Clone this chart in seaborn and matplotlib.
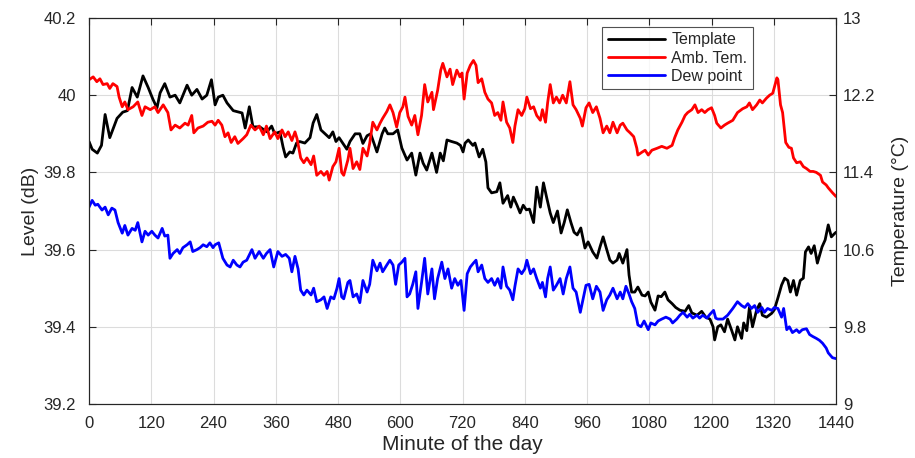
import matplotlib
matplotlib.use("Agg")
import matplotlib.pyplot as plt
import seaborn as sns
import pandas as pd

# ---------------- data ----------------
template_min = [0, 6, 16, 24, 31, 40, 54, 65, 74, 83, 93, 104, 114, 123, 131, 137, 146, 156, 166, 175,
                189, 198, 208, 218, 227, 236, 243, 249, 258, 266, 278, 295, 301, 309, 316, 329, 343, 352,
                358, 368, 374, 379, 387, 393, 400, 406, 416, 426, 432, 439, 447, 455, 463, 470, 476, 482,
                487, 497, 503, 513, 522, 528, 536, 543, 555, 565, 570, 576, 586, 595, 603, 613, 622, 630,
                638, 644, 651, 661, 670, 677, 683, 690, 699, 709, 716, 721, 725, 731, 740, 744, 752, 759,
                765, 769, 776, 786, 792, 798, 807, 813, 818, 825, 831, 837, 843, 849, 857, 863, 870, 876,
                882, 889, 895, 903, 910, 916, 922, 929, 935, 941, 948, 956, 962, 971, 979, 985, 991, 998,
                1004, 1010, 1018, 1022, 1029, 1037, 1041, 1046, 1052, 1058, 1066, 1072, 1078, 1083, 1091,
                1097, 1103, 1110, 1116, 1124, 1131, 1139, 1149, 1156, 1162, 1172, 1181, 1189, 1197, 1203,
                1206, 1212, 1218, 1225, 1231, 1239, 1245, 1250, 1258, 1262, 1268, 1273, 1279, 1287, 1293,
                1298, 1306, 1316, 1321, 1328, 1335, 1341, 1347, 1352, 1358, 1364, 1371, 1377, 1381, 1387,
                1392, 1398, 1404, 1413, 1419, 1425, 1431, 1436, 1440]
template_db = [39.88, 39.86, 39.85, 39.87, 39.95, 39.89, 39.94, 39.956, 39.96, 40.02, 39.995, 40.05, 40.02,
               39.99, 39.967, 40.006, 40.03, 39.995, 40.0, 39.98, 40.026, 40.0, 40.015, 39.99, 40.0, 40.04,
               39.975, 39.995, 40.0, 39.98, 39.96, 39.954, 39.915, 39.97, 39.918, 39.918, 39.905, 39.92,
               39.90, 39.905, 39.866, 39.84, 39.853, 39.85, 39.876, 39.88, 39.876, 39.89, 39.928, 39.95,
               39.91, 39.90, 39.89, 39.905, 39.88, 39.89, 39.88, 39.86, 39.88, 39.90, 39.90, 39.875, 39.895,
               39.90, 39.853, 39.90, 39.915, 39.90, 39.90, 39.91, 39.863, 39.832, 39.85, 39.793, 39.85,
               39.824, 39.806, 39.85, 39.80, 39.85, 39.83, 39.884, 39.88, 39.876, 39.87, 39.853, 39.876,
               39.884, 39.87, 39.876, 39.84, 39.86, 39.827, 39.76, 39.747, 39.75, 39.773, 39.72, 39.74,
               39.71, 39.736, 39.715, 39.695, 39.715, 39.703, 39.705, 39.67, 39.762, 39.71, 39.773, 39.736,
               39.695, 39.67, 39.70, 39.643, 39.67, 39.703, 39.67, 39.645, 39.638, 39.656, 39.604, 39.62,
               39.594, 39.578, 39.607, 39.633, 39.60, 39.573, 39.565, 39.573, 39.59, 39.565, 39.60, 39.534,
               39.49, 39.49, 39.503, 39.482, 39.48, 39.49, 39.464, 39.443, 39.48, 39.478, 39.49, 39.47,
               39.46, 39.45, 39.443, 39.44, 39.455, 39.436, 39.43, 39.44, 39.425, 39.42, 39.40, 39.366,
               39.40, 39.405, 39.387, 39.42, 39.39, 39.366, 39.40, 39.37, 39.41, 39.39, 39.45, 39.40,
               39.444, 39.46, 39.43, 39.425, 39.435, 39.444, 39.475, 39.508, 39.526, 39.52, 39.49, 39.52,
               39.482, 39.52, 39.526, 39.594, 39.607, 39.59, 39.61, 39.565, 39.607, 39.625, 39.664, 39.633,
               39.64, 39.645]

amb_min = [0, 8, 15, 21, 27, 35, 40, 46, 54, 58, 64, 69, 75, 85, 94, 102, 108, 118, 127, 133, 143, 152,
           158, 166, 175, 185, 191, 198, 202, 210, 220, 229, 237, 243, 249, 256, 262, 268, 274, 281, 287,
           297, 304, 312, 320, 328, 336, 342, 349, 358, 364, 372, 378, 384, 391, 397, 401, 408, 414, 420,
           428, 433, 439, 447, 453, 459, 463, 470, 476, 482, 487, 491, 499, 503, 509, 516, 522, 528, 536,
           541, 547, 555, 561, 566, 574, 580, 586, 593, 599, 605, 609, 615, 622, 628, 634, 641, 647, 653,
           661, 664, 672, 678, 682, 690, 696, 701, 709, 715, 719, 723, 729, 735, 741, 746, 750, 757, 763,
           769, 776, 782, 788, 794, 798, 805, 811, 817, 821, 827, 834, 840, 844, 851, 857, 863, 870, 874,
           880, 884, 889, 895, 901, 907, 913, 920, 927, 933, 939, 947, 951, 958, 964, 971, 978, 985, 991,
           998, 1004, 1010, 1018, 1024, 1029, 1037, 1043, 1050, 1056, 1058, 1066, 1072, 1078, 1085, 1095,
           1104, 1114, 1124, 1129, 1135, 1143, 1149, 1154, 1162, 1168, 1174, 1181, 1187, 1193, 1200, 1206,
           1210, 1218, 1225, 1231, 1241, 1250, 1260, 1268, 1273, 1279, 1287, 1293, 1298, 1306, 1312, 1318,
           1326, 1328, 1333, 1337, 1343, 1349, 1354, 1358, 1364, 1371, 1377, 1383, 1390, 1396, 1402, 1410,
           1414, 1421, 1425, 1433, 1440]
amb_temp = [12.36, 12.39, 12.34, 12.37, 12.31, 12.32, 12.27, 12.32, 12.29, 12.18, 12.08, 12.13, 12.05, 12.08,
            12.13, 11.99, 12.08, 12.05, 12.08, 12.02, 12.10, 12.02, 11.84, 11.89, 11.86, 11.91, 11.89, 11.99,
            11.81, 11.86, 11.88, 11.92, 11.93, 11.89, 11.94, 11.89, 11.77, 11.81, 11.71, 11.77, 11.70, 11.75,
            11.79, 11.89, 11.84, 11.88, 11.79, 11.88, 11.75, 11.82, 11.75, 11.84, 11.77, 11.82, 11.73, 11.82,
            11.75, 11.55, 11.50, 11.55, 11.48, 11.57, 11.37, 11.41, 11.37, 11.41, 11.32, 11.46, 11.51, 11.65,
            11.40, 11.37, 11.53, 11.65, 11.44, 11.51, 11.43, 11.65, 11.57, 11.70, 11.92, 11.84, 11.91, 11.96,
            12.03, 12.10, 12.02, 11.87, 12.02, 12.08, 12.18, 11.98, 11.89, 11.99, 11.79, 11.99, 12.31, 12.13,
            12.23, 12.05, 12.25, 12.46, 12.53, 12.39, 12.47, 12.31, 12.46, 12.39, 12.43, 12.16, 12.43, 12.51,
            12.56, 12.51, 12.33, 12.37, 12.23, 12.16, 12.12, 11.99, 12.02, 11.94, 12.13, 11.92, 11.86, 11.71,
            11.88, 12.05, 11.99, 12.06, 12.18, 12.06, 12.08, 11.99, 11.94, 12.05, 11.92, 12.12, 12.31, 12.12,
            12.18, 12.12, 12.20, 12.12, 12.34, 12.10, 12.05, 11.96, 11.88, 12.07, 12.12, 12.02, 12.08, 11.96,
            11.81, 11.88, 11.81, 11.92, 11.81, 11.89, 11.91, 11.84, 11.81, 11.77, 11.65, 11.58, 11.61, 11.63,
            11.58, 11.63, 11.65, 11.67, 11.65, 11.68, 11.76, 11.84, 11.92, 11.99, 12.02, 12.05, 12.10, 12.02,
            12.05, 12.02, 12.05, 12.07, 11.99, 11.91, 11.86, 11.89, 11.91, 11.94, 12.02, 12.06, 12.08, 12.12,
            12.05, 12.10, 12.15, 12.12, 12.17, 12.20, 12.22, 12.38, 12.36, 12.10, 12.02, 11.71, 11.66, 11.65,
            11.55, 11.50, 11.51, 11.46, 11.44, 11.41, 11.41, 11.40, 11.37, 11.30, 11.27, 11.24, 11.19, 11.15]

dew_min = [0, 6, 12, 17, 25, 31, 37, 44, 50, 56, 64, 69, 75, 83, 89, 94, 102, 108, 114, 121, 127, 133, 141,
           146, 152, 156, 162, 170, 175, 181, 189, 195, 200, 208, 214, 220, 227, 233, 239, 243, 250, 258,
           266, 272, 278, 285, 291, 297, 304, 314, 320, 328, 336, 342, 349, 356, 364, 372, 379, 386, 391,
           397, 403, 408, 414, 420, 428, 433, 439, 447, 453, 459, 466, 472, 478, 482, 487, 491, 499, 503,
           509, 516, 522, 528, 536, 541, 547, 555, 561, 566, 574, 580, 586, 591, 597, 603, 609, 613, 618,
           624, 630, 634, 641, 647, 653, 661, 666, 672, 680, 686, 692, 699, 705, 711, 717, 723, 729, 735,
           741, 746, 750, 757, 763, 769, 776, 782, 788, 794, 798, 805, 811, 817, 821, 827, 834, 840, 844,
           851, 857, 863, 870, 874, 880, 884, 889, 895, 901, 908, 914, 920, 927, 933, 939, 947, 951, 958,
           964, 971, 978, 985, 991, 998, 1004, 1010, 1018, 1024, 1029, 1035, 1041, 1046, 1052, 1058, 1064,
           1070, 1078, 1083, 1091, 1097, 1104, 1112, 1120, 1125, 1133, 1139, 1145, 1153, 1158, 1164, 1172,
           1177, 1183, 1191, 1197, 1204, 1208, 1212, 1222, 1231, 1241, 1250, 1258, 1264, 1270, 1277, 1283,
           1289, 1297, 1302, 1308, 1316, 1321, 1328, 1335, 1339, 1345, 1350, 1356, 1364, 1369, 1375, 1383,
           1389, 1395, 1402, 1408, 1414, 1421, 1425, 1433, 1440]
dew_temp = [11.04, 11.11, 11.06, 11.07, 11.01, 11.04, 10.96, 11.03, 11.01, 10.88, 10.77, 10.85, 10.75, 10.82,
            10.80, 10.88, 10.68, 10.79, 10.75, 10.79, 10.75, 10.72, 10.82, 10.74, 10.75, 10.51, 10.56, 10.60,
            10.56, 10.62, 10.65, 10.68, 10.58, 10.60, 10.62, 10.65, 10.63, 10.67, 10.62, 10.65, 10.67, 10.51,
            10.44, 10.42, 10.49, 10.44, 10.42, 10.47, 10.49, 10.60, 10.51, 10.58, 10.51, 10.56, 10.60, 10.42,
            10.58, 10.53, 10.55, 10.51, 10.37, 10.53, 10.40, 10.18, 10.13, 10.18, 10.13, 10.20, 10.06, 10.08,
            10.11, 9.99, 10.11, 10.09, 10.20, 10.30, 10.11, 10.09, 10.26, 10.28, 10.11, 10.14, 10.05, 10.28,
            10.16, 10.24, 10.49, 10.38, 10.46, 10.37, 10.44, 10.49, 10.44, 10.24, 10.44, 10.47, 10.51, 10.11,
            10.14, 10.24, 10.37, 9.99, 10.26, 10.51, 10.14, 10.40, 10.09, 10.30, 10.47, 10.30, 10.40, 10.20,
            10.30, 10.23, 10.28, 9.97, 10.35, 10.42, 10.46, 10.49, 10.37, 10.44, 10.30, 10.26, 10.30, 10.23,
            10.30, 10.20, 10.42, 10.22, 10.18, 10.08, 10.22, 10.40, 10.35, 10.40, 10.49, 10.35, 10.40, 10.30,
            10.20, 10.26, 10.11, 10.30, 10.42, 10.18, 10.23, 10.30, 10.14, 10.30, 10.42, 10.20, 10.16, 9.95,
            10.05, 10.23, 10.24, 10.09, 10.22, 10.16, 9.97, 10.08, 10.13, 10.20, 10.09, 10.16, 10.09, 10.22,
            10.14, 10.06, 9.99, 9.82, 9.80, 9.86, 9.77, 9.84, 9.82, 9.86, 9.88, 9.90, 9.88, 9.84, 9.88, 9.92,
            9.95, 9.90, 9.93, 9.89, 9.92, 9.89, 9.92, 9.89, 9.93, 9.97, 9.89, 9.88, 9.88, 9.92, 9.99, 10.06,
            10.02, 10.00, 10.04, 9.99, 10.02, 9.95, 10.00, 9.95, 9.99, 9.97, 10.00, 9.99, 9.90, 9.99, 9.77,
            9.80, 9.74, 9.77, 9.74, 9.77, 9.78, 9.72, 9.70, 9.68, 9.66, 9.63, 9.58, 9.53, 9.48, 9.47]

x_ticks = [0, 120, 240, 360, 480, 600, 720, 840, 960, 1080, 1200, 1320, 1440]
left_ticks = [39.2, 39.4, 39.6, 39.8, 40.0, 40.2]
left_labels = ["39.2", "39.4", "39.6", "39.8", "40", "40.2"]
right_ticks = [9, 9.8, 10.6, 11.4, 12.2, 13]
right_labels = ["9", "9.8", "10.6", "11.4", "12.2", "13"]

df_t = pd.DataFrame({"minute": template_min, "value": template_db})
df_a = pd.DataFrame({"minute": amb_min, "value": amb_temp})
df_d = pd.DataFrame({"minute": dew_min, "value": dew_temp})

# ---------------- style ----------------
sns.set_theme(style="white")
plt.rcParams["font.family"] = ["Liberation Sans", "DejaVu Sans"]

fig = plt.figure(figsize=(9.15, 4.58), dpi=100)
ax = fig.add_axes([0.0973, 0.1179, 0.8164, 0.8428])
ax2 = ax.twinx()

lw = 2.0
sns.lineplot(data=df_t, x="minute", y="value", ax=ax, color="#000000", lw=lw, label="Template",
             legend=False, estimator=None, sort=False)
sns.lineplot(data=df_a, x="minute", y="value", ax=ax2, color="#FF0000", lw=lw, label="Amb. Tem.",
             legend=False, estimator=None, sort=False)
sns.lineplot(data=df_d, x="minute", y="value", ax=ax2, color="#0000FF", lw=lw, label="Dew point",
             legend=False, estimator=None, sort=False)

ax.set_xlim(0, 1440)
ax.set_ylim(39.2, 40.2)
ax2.set_ylim(9, 13)
ax.set_xticks(x_ticks)
ax.set_xticklabels([str(v) for v in x_ticks])
ax.set_yticks(left_ticks)
ax.set_yticklabels(left_labels)
ax2.set_yticks(right_ticks)
ax2.set_yticklabels(right_labels)

ax.grid(True, color="#DCDCDC", lw=0.8)
ax.set_axisbelow(True)

tick_color = "#262626"
ax.tick_params(axis="both", which="both", direction="in", length=5, width=0.8, colors=tick_color,
               labelsize=12, labelcolor="#262626", top=True, right=False)
ax.tick_params(axis="x", pad=8.5)
ax.tick_params(axis="y", pad=9.5)
ax2.tick_params(axis="y", direction="in", length=5, width=0.8, colors=tick_color, labelsize=12,
                labelcolor="#262626", pad=5)
for a in (ax, ax2):
    for s in a.spines.values():
        s.set_color(tick_color)
        s.set_linewidth(0.8)
        s.set_visible(True)

ax.set_xlabel("Minute of the day", fontsize=15, color="#262626", labelpad=3)
ax.set_ylabel("Level (dB)", fontsize=14, color="#262626", labelpad=3)
ax2.set_ylabel("Temperature (°C)", fontsize=14, color="#262626", labelpad=12)

handles = ax.get_lines()[:1] + ax2.get_lines()[:2]
leg = ax2.legend(handles, ["Template", "Amb. Tem.", "Dew point"], loc="upper right",
                 bbox_to_anchor=(0.889, 0.977), borderaxespad=0, fontsize=11.5, frameon=True,
                 fancybox=False, edgecolor="#262626", handlelength=3.6, handletextpad=0.4,
                 labelspacing=0.2, borderpad=0.35)
leg.get_frame().set_linewidth(0.8)

fig.savefig("out.png", dpi=100)
